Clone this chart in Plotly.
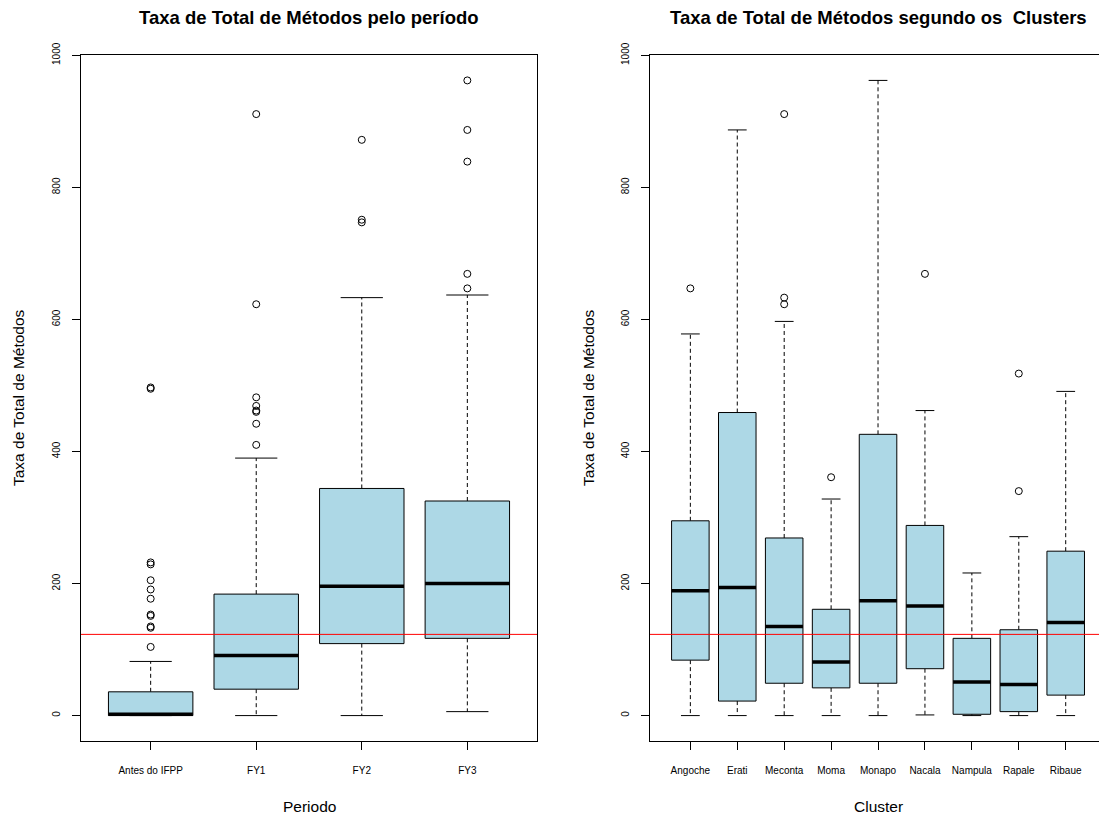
import plotly.graph_objects as go

# ---------------- data ----------------
periods = ["Antes do IFPP", "FY1", "FY2", "FY3"]
p_lower = [0, 0, 0, 6]
p_q1 = [0, 40, 109, 117]
p_median = [2, 91, 196, 200]
p_q3 = [36, 184, 344, 325]
p_upper = [82, 390, 633, 637]
p_outliers = [
    [104, 133, 135, 151, 153, 177, 191, 205, 229, 232, 495, 497],
    [410, 442, 460, 462, 469, 482, 623, 911],
    [747, 751, 872],
    [647, 669, 839, 887, 962],
]

clusters = ["Angoche", "Erati", "Meconta", "Moma", "Monapo", "Nacala", "Nampula", "Rapale", "Ribaue"]
c_lower = [0, 0, 0, 0, 0, 1, 0, 0, 0]
c_q1 = [84, 22, 49, 42, 49, 71, 2, 6, 31]
c_median = [189, 194, 135, 81, 174, 166, 51, 47, 141]
c_q3 = [295, 459, 269, 161, 426, 288, 117, 130, 249]
c_upper = [578, 887, 597, 328, 962, 462, 216, 271, 491]
c_outliers = [[647], [], [623, 633, 911], [361], [], [669], [], [340, 518], []]

overall_mean = 123

y_ticks = [0, 200, 400, 600, 800, 1000]

FONT = "Liberation Sans, Arial, sans-serif"
BOXW = 0.4
CAPW = 0.2

fig = go.Figure()


def add_boxplot(cats, lower, q1, med, q3, upper, outl, xa, ya):
    pos = list(range(1, len(cats) + 1))
    bx, by, mx, my, wx, wy, cx, cy, ox, oy = [], [], [], [], [], [], [], [], [], []
    for p, lo, a, m, b, hi, out in zip(pos, lower, q1, med, q3, upper, outl):
        bx += [p - BOXW, p + BOXW, p + BOXW, p - BOXW, p - BOXW, None]
        by += [a, a, b, b, a, None]
        mx += [p - BOXW, p + BOXW, None]
        my += [m, m, None]
        wx += [p, p, None, p, p, None]
        wy += [b, hi, None, a, lo, None]
        cx += [p - CAPW, p + CAPW, None, p - CAPW, p + CAPW, None]
        cy += [hi, hi, None, lo, lo, None]
        for v in out:
            ox.append(p)
            oy.append(v)
    common = dict(xaxis=xa, yaxis=ya, showlegend=False, hoverinfo="skip")
    fig.add_trace(go.Scatter(x=wx, y=wy, mode="lines",
                             line=dict(color="black", width=1, dash="4px,3px"), **common))
    fig.add_trace(go.Scatter(x=cx, y=cy, mode="lines",
                             line=dict(color="black", width=1), **common))
    fig.add_trace(go.Scatter(x=bx, y=by, mode="lines", fill="toself",
                             fillcolor="#ADD8E6", line=dict(color="black", width=1), **common))
    fig.add_trace(go.Scatter(x=mx, y=my, mode="lines",
                             line=dict(color="black", width=3.5), **common))
    fig.add_trace(go.Scatter(x=ox, y=oy, mode="markers",
                             marker=dict(symbol="circle-open", size=7,
                                         line=dict(color="black", width=1), color="black"),
                             **common))


add_boxplot(periods, p_lower, p_q1, p_median, p_q3, p_upper, p_outliers, "x", "y")
add_boxplot(clusters, c_lower, c_q1, c_median, c_q3, c_upper, c_outliers, "x2", "y2")

# reference (mean) lines
fig.add_shape(type="line", xref="x domain", yref="y", x0=0, x1=1,
              y0=overall_mean, y1=overall_mean, line=dict(color="red", width=1))
fig.add_shape(type="line", xref="x2 domain", yref="y2", x0=0, x1=1,
              y0=overall_mean, y1=overall_mean, line=dict(color="red", width=1))

W, H = 1099, 816
ML, MR, MT, MB = 81, 0, 55, 75
PW = W - ML - MR
PH = H - MT - MB

left_dom = [0, 456 / PW]
right_dom = [(650 - ML) / PW, 1.0]
yrange = [-38.48, 1000.48]

axis_common = dict(showgrid=False, zeroline=False, showline=True, linecolor="black",
                   linewidth=1, ticks="outside", ticklen=8, tickcolor="black", tickwidth=1,
                   tickfont=dict(family=FONT, size=10, color="black"))

fig.update_layout(
    width=W, height=H,
    margin=dict(l=ML, r=MR, t=MT, b=MB, pad=0),
    paper_bgcolor="white", plot_bgcolor="white",
    xaxis=dict(domain=left_dom, range=[0.34, 4.66], tickvals=list(range(1, 5)),
               ticktext=periods, mirror=True, ticklabelstandoff=12, anchor="y", **axis_common),
    yaxis=dict(domain=[0, 1], range=yrange, tickvals=y_ticks, tickangle=-90,
               mirror=True, ticklabelstandoff=8, anchor="x", **axis_common),
    xaxis2=dict(domain=right_dom, range=[0.14, 0.14 + (W - 650) / 46.92],
                tickvals=list(range(1, 10)), ticktext=clusters, mirror=True,
                ticklabelstandoff=12, anchor="y2", **axis_common),
    yaxis2=dict(domain=[0, 1], range=yrange, tickvals=y_ticks, tickangle=-90,
                mirror=False, ticklabelstandoff=8, anchor="x2", **axis_common),
)


def px_x(px):
    return (px - ML) / PW


def px_y(py):
    return (H - MB - py) / PH


annots = [
    dict(text="<b>Taxa de Total de Métodos pelo período</b>", x=px_x(309), y=px_y(18),
         font=dict(size=18.5)),
    dict(text="<b>Taxa de Total de Métodos segundo os  Clusters</b>", x=px_x(878), y=px_y(18),
         font=dict(size=18.5)),
    dict(text="Periodo", x=px_x(309), y=px_y(806), font=dict(size=15.5)),
    dict(text="Cluster", x=px_x(878), y=px_y(806), font=dict(size=15.5)),
    dict(text="Taxa de Total de Métodos", x=px_x(18), y=px_y(398), textangle=-90,
         font=dict(size=15.5)),
    dict(text="Taxa de Total de Métodos", x=px_x(588), y=px_y(398), textangle=-90,
         font=dict(size=15.5)),
]
for a in annots:
    a["font"].update(family=FONT, color="black")
    fig.add_annotation(xref="paper", yref="paper", showarrow=False,
                       xanchor="center", yanchor="middle", **a)

fig.write_html("out.html")
